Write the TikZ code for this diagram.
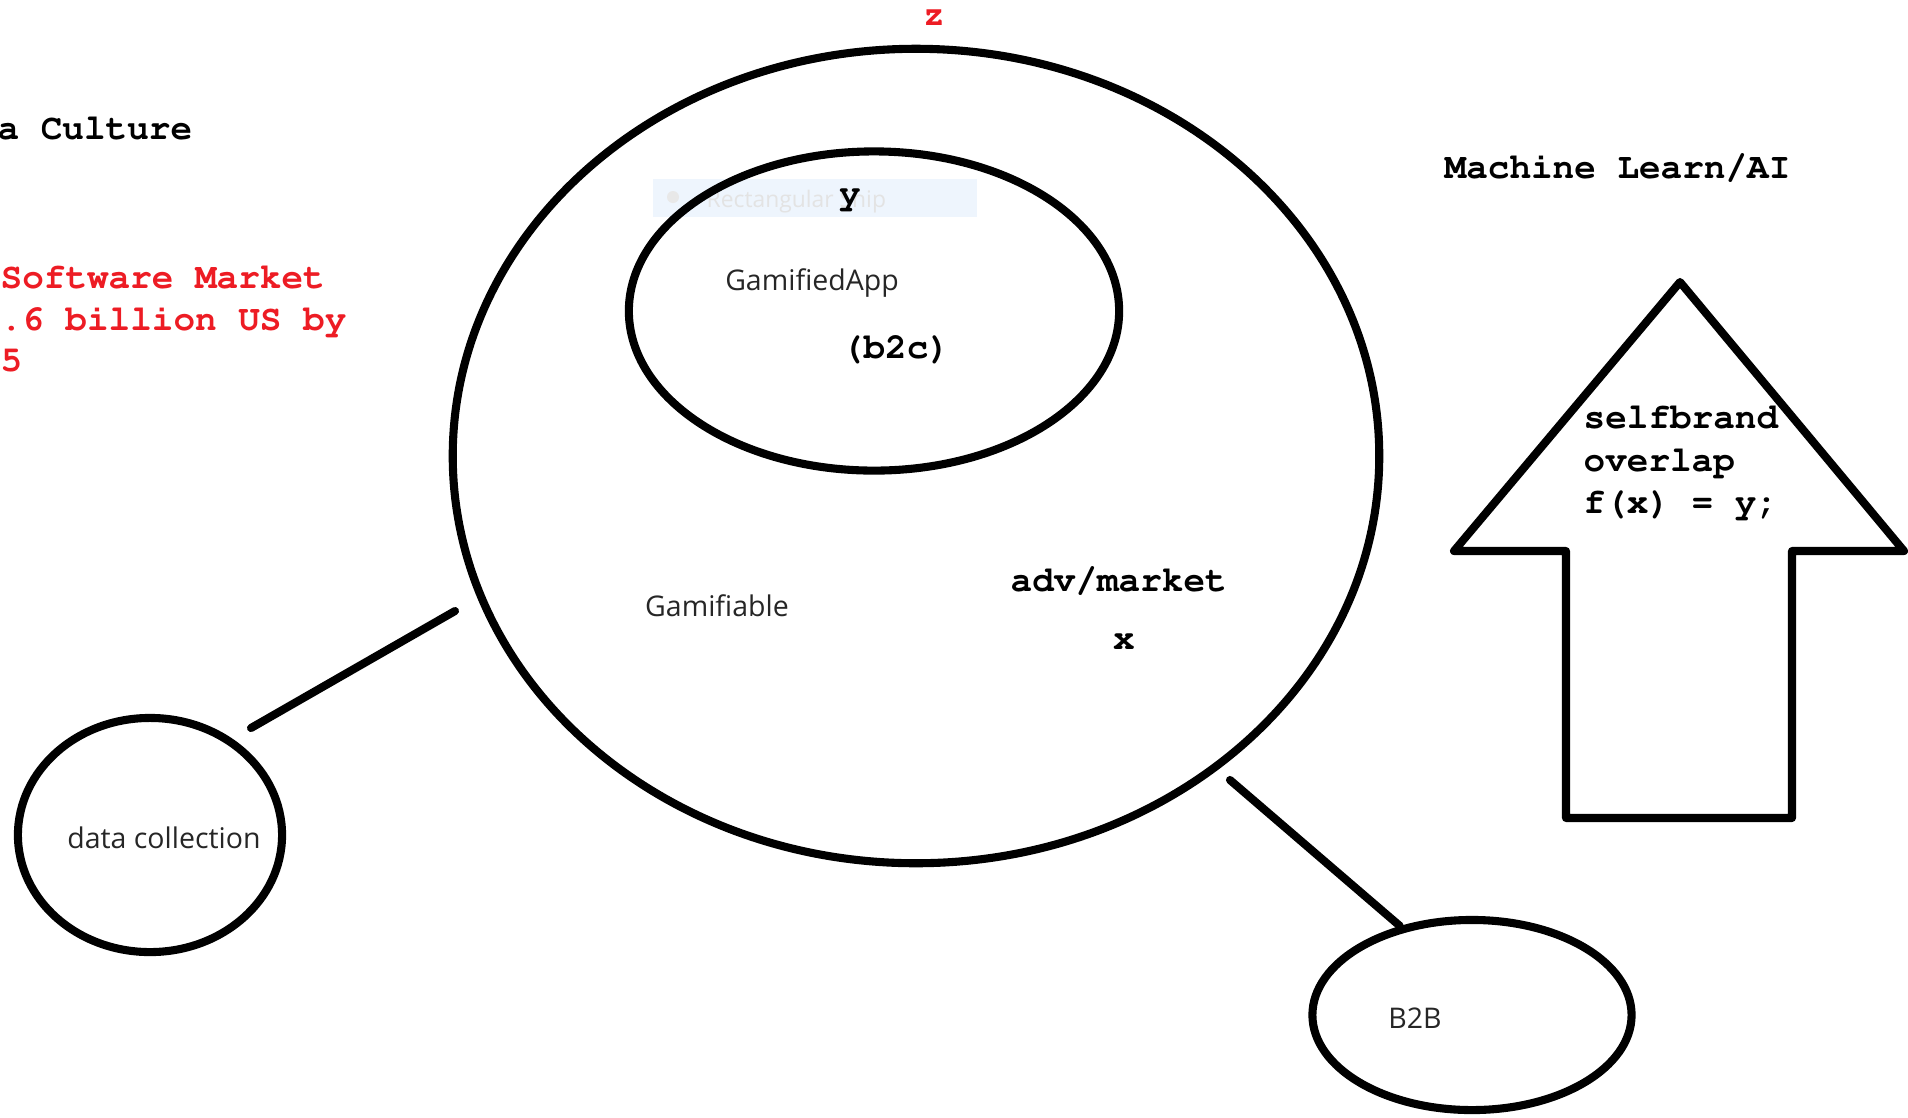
\documentclass[tikz,border=0pt]{standalone}
\usepackage[T1]{fontenc}
\usepackage{fontspec}
\setmainfont{Open Sans}
\usetikzlibrary{shapes.geometric}
\definecolor{paintred}{RGB}{237,28,36}
\definecolor{snipblue}{RGB}{238,245,253}
\newcommand{\courbold}{\fontencoding{T1}\fontfamily{pcr}\fontseries{b}\selectfont}

\begin{document}
\begin{tikzpicture}[x=0.01cm,y=-0.01cm,
  bubble/.style={draw, ellipse, line width=2.3pt, inner sep=0pt},
  link/.style={line width=2.3pt, line cap=round},
  mono/.style={inner sep=0pt, font=\courbold\fontsize{10.24pt}{11.8pt}\selectfont},
  sans/.style={inner sep=0pt, text=black!85, font=\fontsize{8.1pt}{9.7pt}\selectfont}]
\useasboundingbox (0,0) rectangle (1908,1117);

\node[inner sep=0pt, minimum width=3.24cm, minimum height=0.38cm, fill=snipblue] (snip) at (815,198) {};
\fill[gray!18] (673,197) circle (0.06cm);
\node[inner sep=0pt, anchor=base west, text=gray!22, font=\fontsize{6.5pt}{8pt}\selectfont] (sniptext) at (706,207) {Rectangular Snip};

\node[bubble, minimum width=9.26cm, minimum height=8.14cm] (zone) at (916,456) {};
\node[bubble, minimum width=4.90cm, minimum height=3.19cm] (appzone) at (874,311) {};
\node[bubble, minimum width=2.64cm, minimum height=2.34cm] (dcnode) at (150,835) {};
\node[bubble, minimum width=3.19cm, minimum height=1.90cm] (btob) at (1472,1015) {};

\coordinate (dcend) at (251,728);
\coordinate (zonewest) at (455,611);
\coordinate (zonesouth) at (1230,780);
\draw[link] (dcend) -- (zonewest);
\draw[link] (zonesouth) -- (btob.129);

\draw[line width=2.3pt, line join=round] (1680,282) -- (1904,551) -- (1792,551) -- (1792,818) -- (1566,818) -- (1566,551) -- (1454,551) -- cycle;

\node[mono, anchor=base west] (culture) at (-3,139) {a Culture};
\node[mono, anchor=base west, text=paintred] (mkt1) at (0,288) {Software Market};
\node[mono, anchor=base west, text=paintred] (mkt2) at (0,330) {.6 billion US by};
\node[mono, anchor=base west, text=paintred] (mkt3) at (0,371) {5};
\node[mono, anchor=base, text=paintred] (zlabel) at (934,25) {z};
\node[mono, anchor=base] (ylabel) at (850,204) {y};
\node[sans, anchor=base] (appname) at (812,290) {GamifiedApp};
\node[mono, anchor=base] (btoc) at (896,358) {(b2c)};
\node[sans, anchor=base] (gamable) at (717,616) {Gamifiable};
\node[mono, anchor=base west] (advmkt) at (1010,591) {adv/market};
\node[mono, anchor=base] (xlabel) at (1124,649) {x};
\node[mono, anchor=base west] (mlai) at (1444,178) {Machine Learn/AI};
\node[mono, anchor=base west] (brand1) at (1583,428) {selfbrand};
\node[mono, anchor=base west] (brand2) at (1583,471) {overlap};
\node[mono, anchor=base west] (brand3) at (1583,513) {f(x) = y;};
\node[sans, anchor=base] (dctext) at (164,848) {data collection};
\node[sans, anchor=base] (btobtext) at (1415,1028) {B2B};
\end{tikzpicture}
\end{document}
